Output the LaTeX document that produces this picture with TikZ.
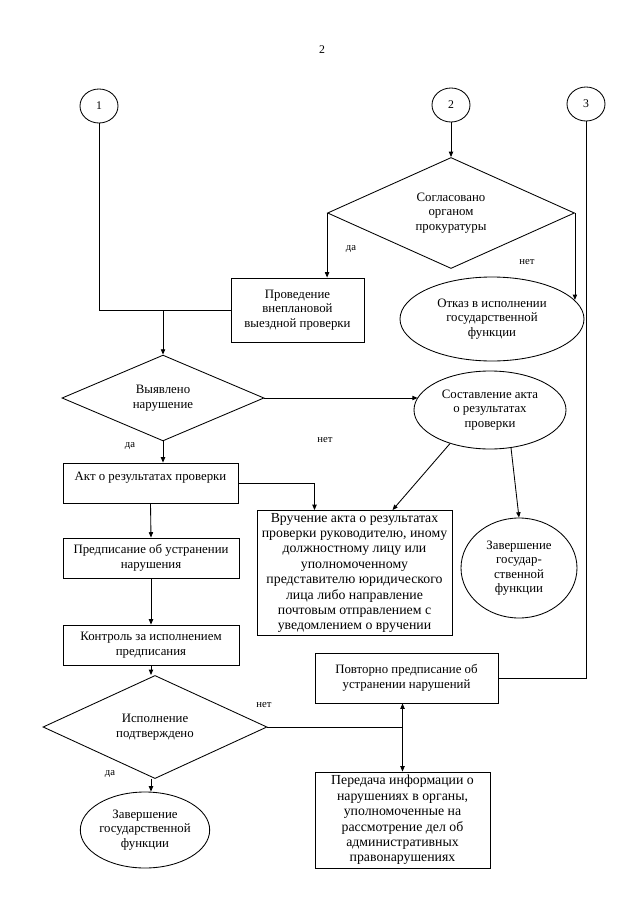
\documentclass[tikz,border=0pt]{standalone}
\usepackage{fontspec}
\setmainfont{Liberation Serif}
\usetikzlibrary{shapes.geometric, arrows.meta}
\newlength\pxl
\setlength\pxl{0.3286mm}
\tikzstyle{block} = [rectangle, draw, line width=0.8pt, align=center, inner sep=1pt, font=\fontsize{12}{13.5}\selectfont]
\tikzstyle{decision} = [diamond, draw, line width=0.8pt, align=center, inner sep=0pt, font=\fontsize{12}{13.5}\selectfont]
\tikzstyle{terminal} = [ellipse, draw, line width=0.8pt, align=center, inner sep=0pt, font=\fontsize{12}{13.5}\selectfont]
\tikzstyle{connector} = [ellipse, draw, line width=0.8pt, minimum width=38*\pxl, minimum height=34*\pxl, inner sep=0pt, font=\fontsize{11}{12}\selectfont]
\tikzstyle{answer} = [font=\fontsize{10}{12}\selectfont]
\tikzstyle{link} = [line width=0.8pt]
\tikzstyle{arrow} = [line width=0.8pt, -{Triangle[length=5pt, width=4pt]}]

\begin{document}
\begin{tikzpicture}[x=0.3286mm, y=-0.3286mm]
    \useasboundingbox (0,0) rectangle (639,905);

    % Page number
    \node[font=\fontsize{11}{12}\selectfont] (pagenum) at (322,50) {2};

    % Entry points
    \node[connector] (c1) at (99,106) {1};
    \node[connector] (c2) at (451,105) {2};
    \node[connector] (c3) at (586,104) {3};

    % Prosecutor approval
    \node[decision, minimum width=247*\pxl, minimum height=107*\pxl] (agreed) at (451,213) {Согласовано\\органом\\прокуратуры};
    \node[block, minimum width=133*\pxl, minimum height=64*\pxl] (inspect) at (297.5,310) {Проведение\\внеплановой\\выездной проверки};
    \node[terminal, minimum width=184*\pxl, minimum height=84*\pxl] (refuse) at (492,319) {Отказ в исполнении\\государственной\\функции};

    % Violation found
    \node[decision, minimum width=202*\pxl, minimum height=69*\pxl] (found) at (163,398) {Выявлено\\нарушение};
    \node[terminal, minimum width=152*\pxl, minimum height=78*\pxl] (report) at (490,410) {Составление акта\\о результатах\\проверки};

    % Left column
    \node[block, minimum width=175*\pxl, minimum height=40*\pxl] (act) at (150.5,483) {Акт о результатах проверки\\\mbox{}};
    \node[block, minimum width=176*\pxl, minimum height=40*\pxl] (order) at (151,558) {Предписание об устранении\\нарушения};
    \node[block, minimum width=176*\pxl, minimum height=40*\pxl] (control) at (151,645) {Контроль за исполнением\\предписания};
    \node[decision, minimum width=224*\pxl, minimum height=68*\pxl] (done) at (155,727) {Исполнение\\подтверждено};
    \node[terminal, minimum width=124*\pxl, minimum height=76*\pxl] (finish) at (145,830) {Завершение\\государственной\\функции};

    % Middle and right column
    \node[block, minimum width=195*\pxl, minimum height=125*\pxl, inner sep=0.5pt, font=\fontsize{12.9}{14.4}\selectfont] (deliver) at (354.5,573) {Вручение акта о результатах\\проверки руководителю, иному\\должностному лицу или\\уполномоченному\\представителю юридического\\лица либо направление\\почтовым отправлением с\\уведомлением о вручении};
    \node[terminal, minimum width=116*\pxl, minimum height=100*\pxl] (close) at (519,568) {Завершение\\государ-\\ственной\\функции};
    \node[block, minimum width=183*\pxl, minimum height=50*\pxl] (repeat) at (406.5,678) {Повторно предписание об\\устранении нарушений};
    \node[block, minimum width=175*\pxl, minimum height=96*\pxl, font=\fontsize{12.9}{14.4}\selectfont] (transfer) at (402.5,820) {Передача информации о\\нарушениях в органы,\\уполномоченные на\\рассмотрение дел об\\административных\\правонарушениях};

    % Junctions
    \coordinate (j1) at (found.north |- inspect.west);
    \coordinate (j2) at (transfer.north |- done.east);

    % Arrows
    \draw[arrow] (c2) -- (agreed);
    \draw[arrow] (agreed.west) -- (agreed.west |- inspect.north);
    \draw[arrow] (agreed.east) -- (agreed.east |- refuse.13);
    \draw[link] (c1) |- (inspect.west);
    \draw[arrow] (j1) -- (found.north);
    \draw[arrow] (found.east) -- (report.170 |- found.east);
    \draw[arrow] (found.south) -- (act.north -| found.south);
    \draw[arrow] (act.east) -| ([xshift=-40*\pxl]deliver.north);
    \draw[arrow] (report.220) -- ([xshift=38*\pxl]deliver.north);
    \draw[arrow] (report.299) -- (close.north);
    \draw[arrow] (act.south) -- (order.north);
    \draw[arrow] (order.south) -- (control.north);
    \draw[arrow] (control.south) -- (control.south |- done.north);
    \draw[arrow] (control.south |- done.south) -- (control.south |- finish.north);
    \draw[link] (c3) |- (repeat.east);
    \draw[link] (done.east) -- (j2);
    \draw[arrow] (j2) -- (j2 |- repeat.south);
    \draw[arrow] (j2) -- (transfer.north);

    % Answers
    \node[answer] (yes1) at (351,249) {да};
    \node[answer] (no1) at (527,262) {нет};
    \node[answer] (no2) at (325,440) {нет};
    \node[answer] (yes2) at (130,446) {да};
    \node[answer] (no3) at (264,705) {нет};
    \node[answer] (yes3) at (110,774) {да};
\end{tikzpicture}
\end{document}
